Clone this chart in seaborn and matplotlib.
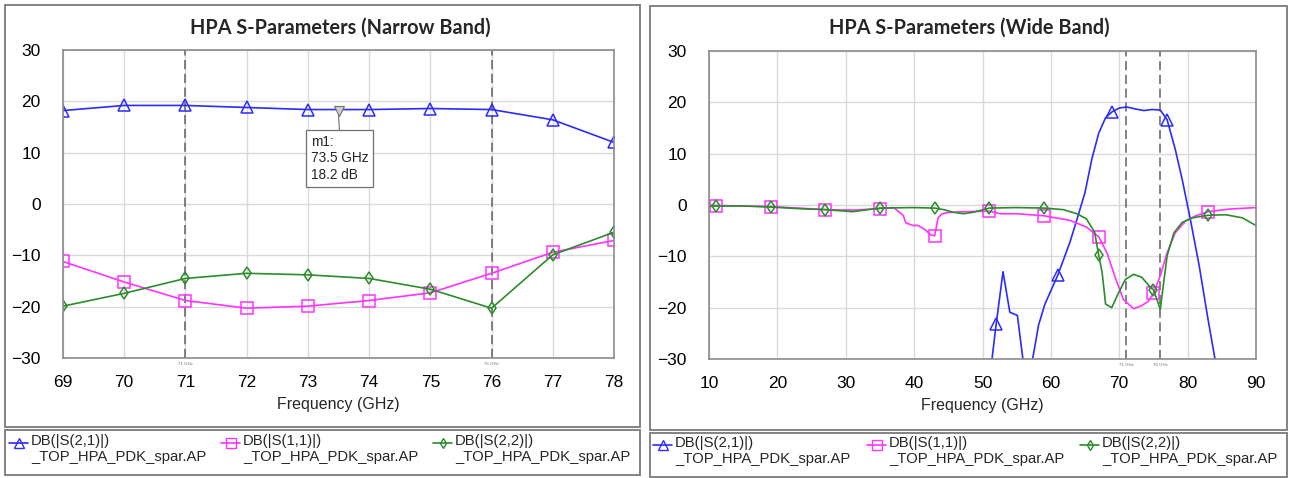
import numpy as np
import pandas as pd
import seaborn as sns
import matplotlib.pyplot as plt
from matplotlib.lines import Line2D
from matplotlib.patches import Rectangle

# --- narrow band (69-78 GHz) ---
nb_freq = [69, 70, 71, 72, 73, 74, 75, 76, 77, 78]
nb_s21 = [18.2, 19.2, 19.2, 18.8, 18.4, 18.4, 18.6, 18.4, 16.4, 12.0]
nb_s11 = [-11.2, -15.2, -18.8, -20.3, -19.9, -18.8, -17.3, -13.5, -9.4, -7.1]
nb_s22 = [-19.9, -17.4, -14.5, -13.5, -13.8, -14.5, -16.6, -20.3, -9.9, -5.5]

# marker m1
m1_freq = 73.5
m1_db = 18.2

# --- wide band (10-90 GHz) ---
wb_f21 = [51.3, 52, 53, 54, 55.1, 56.0, 57.2, 58.2, 59.1, 61, 62.8, 64, 65, 66, 67,
          68, 69, 70, 71.1, 72.4, 73.6, 74.8, 76, 77, 78.2, 79.2, 80.4, 81.7, 82.9, 84.2]
wb_s21 = [-31, -23.2, -13.0, -20.9, -21.5, -31, -31, -23.4, -19.4, -13.7, -7.2, -2.0, 2.5, 9.0, 14.0,
          17.0, 18.2, 18.9, 19.1, 18.7, 18.4, 18.6, 18.5, 16.6, 10.8, 5.0, -2.8, -11.9, -21.6, -31.5]

wb_f11 = [10, 11, 15, 19, 23, 27, 31, 35, 37, 38.4, 38.8, 39.9, 40.6, 41.6, 42.4, 43, 43.5, 44.0,
          44.8, 47.2, 51, 52.6, 55, 59, 62.8, 65.2, 67, 68.2, 69.4, 70.6, 72.1, 73.3, 74.3, 75,
          76, 77, 78.2, 79.7, 81.2, 83, 86, 90]
wb_s11 = [0.0, -0.1, -0.2, -0.3, -0.6, -0.9, -1.0, -0.7, -0.5, -2.0, -3.5, -4.0, -4.0, -4.8, -5.8, -6.0, -2.5, -1.8,
          -1.5, -1.3, -1.2, -1.7, -1.7, -2.1, -3.0, -4.3, -6.2, -9.3, -14.1, -18.4, -20.2, -19.6, -18.7, -17.2,
          -13.8, -9.3, -5.4, -3.1, -2.1, -1.3, -0.8, -0.5]

wb_f22 = [10, 11, 15, 19, 23, 27, 31, 35, 40, 43, 44.3, 45.7, 47.2, 48.7, 51, 55, 59, 61.8, 63.8,
          65.2, 66.4, 67, 67.5, 68.0, 68.9, 69.9, 70.9, 72.1, 73.3, 74.6, 75, 76, 77, 78, 79.2,
          80.7, 83, 85.6, 88, 90]
wb_s22 = [-0.3, -0.2, -0.2, -0.4, -0.7, -0.9, -1.3, -0.6, -0.5, -0.6, -0.9, -1.4, -1.7, -1.4, -0.6, -0.5, -0.6, -0.9, -1.7,
          -2.7, -5.3, -9.8, -13.2, -19.3, -20.0, -17.1, -14.5, -13.5, -14.1, -16.1, -16.5, -20.3, -9.9, -5.4, -3.4,
          -2.5, -2.0, -1.9, -2.5, -4.0]

# where the symbols sit on the wide band traces
wb_marks21 = [52, 61, 69, 77]
wb_marks = [11, 19, 27, 35, 43, 51, 59, 67, 75, 83]

band_edges = [71, 76]
band_labels = ["71 GHz", "76 GHz"]

labels = ["DB(|S(2,1)|)\n_TOP_HPA_PDK_spar.AP",
          "DB(|S(1,1)|)\n_TOP_HPA_PDK_spar.AP",
          "DB(|S(2,2)|)\n_TOP_HPA_PDK_spar.AP"]
colors = ["#2b2bff", "#ff33ff", "#2a8c2a"]
symbols = ["^", "s", "d"]
msizes = [8, 8.5, 6.5]

sns.set_theme(style="white")
plt.rcParams["font.family"] = ["Liberation Sans", "DejaVu Sans"]

W, H = 1291, 478
fig = plt.figure(figsize=(W / 100, H / 100), dpi=100)


def fx(px):
    return px / W


def fy(py):
    return 1 - py / H


def draw_curve(ax, f, v, marks, i):
    mask = [x in marks for x in f]
    sns.lineplot(x=f, y=v, ax=ax, color=colors[i], lw=1.2, sort=False, estimator=None,
                 marker=symbols[i], markevery=mask, ms=msizes[i], mfc="none",
                 mec=colors[i], mew=1.1)


def style_axes(ax, xlim, xticks):
    ax.set_xlim(xlim)
    ax.set_ylim(-30, 30)
    ax.set_xticks(xticks)
    ax.set_yticks(range(-30, 31, 10))
    ax.grid(True, color="#d9d9d9", lw=1)
    for s in ax.spines.values():
        s.set_color("#8c8c8c")
        s.set_linewidth(1.2)
    ax.tick_params(axis="y", length=0, pad=16, labelsize=12.5, labelcolor="black")
    ax.tick_params(axis="x", length=0, pad=12, labelsize=12.5, labelcolor="black")
    ax.set_xlabel("Frequency (GHz)", fontsize=11.5, labelpad=5)
    ax.set_ylabel("")
    for f, lab in zip(band_edges, band_labels):
        ax.axvline(f, color="#606060", lw=1.1, ls=(0, (6, 3)), zorder=1.5)
        ax.text(f, -0.012, lab, transform=ax.get_xaxis_transform(), fontsize=3.2,
                color="#707070", ha="center", va="top")


# left: narrow band
ax1 = fig.add_axes([fx(63), fy(358), fx(614 - 63), (358 - 50) / H])
draw_curve(ax1, nb_freq, nb_s21, nb_freq, 0)
draw_curve(ax1, nb_freq, nb_s11, nb_freq, 1)
draw_curve(ax1, nb_freq, nb_s22, nb_freq, 2)
style_axes(ax1, (69, 78), range(69, 79))
ax1.plot([m1_freq], [m1_db], marker="v", ms=7, mfc="#d0d0d0", mec="#707070", mew=0.8, ls="none", zorder=5)
ax1.annotate(f"m1:\n{m1_freq} GHz\n{m1_db} dB", xy=(m1_freq, m1_db - 0.8), xytext=(73.05, 13.5),
             ha="left", va="top", fontsize=9.8, linespacing=1.25,
             bbox=dict(boxstyle="square,pad=0.35", fc="white", ec="#707070", lw=0.9),
             arrowprops=dict(arrowstyle="-", color="#808080", lw=0.9, shrinkA=0, shrinkB=0,
                             relpos=(0.5, 1.0)))

# right: wide band
ax2 = fig.add_axes([fx(709), fy(359), fx(1256 - 709), (359 - 51) / H])
draw_curve(ax2, wb_f21, wb_s21, wb_marks21, 0)
draw_curve(ax2, wb_f11, wb_s11, wb_marks, 1)
draw_curve(ax2, wb_f22, wb_s22, wb_marks, 2)
style_axes(ax2, (10, 90), range(10, 91, 10))

# titles
fig.text(fx(340), fy(28), "HPA S-Parameters (Narrow Band)", ha="center", va="center",
         fontsize=14.3, fontweight="bold", family=["Lato", "DejaVu Sans"])
fig.text(fx(969), fy(28), "HPA S-Parameters (Wide Band)", ha="center", va="center",
         fontsize=14.3, fontweight="bold", family=["Lato", "DejaVu Sans"])

# panel frames and hand-placed legend rows (handle sits on the first label line)
panels = [
    # x0, x1, ytop, ymid, ybot, handle x starts, first-line y
    (5, 640, 5, 427, 475, [9, 221, 433], 443),
    (650, 1287, 6, 430, 477, [653, 867, 1080], 445),
]
for (x0, x1, ytop, ymid, ybot, hx, ly) in panels:
    fig.add_artist(Rectangle((fx(x0), fy(ymid)), fx(x1 - x0), (ymid - ytop) / H,
                             transform=fig.transFigure, fill=False, ec="#7a7a7a", lw=1.3))
    fig.add_artist(Rectangle((fx(x0), fy(ybot)), fx(x1 - x0), (ybot - ymid - 3) / H,
                             transform=fig.transFigure, fill=False, ec="#7a7a7a", lw=1.3))
    for i, hx0 in enumerate(hx):
        fig.add_artist(Line2D([fx(hx0), fx(hx0 + 19)], [fy(ly), fy(ly)], transform=fig.transFigure,
                              color=colors[i], lw=1.2))
        fig.add_artist(Line2D([fx(hx0 + 9.5)], [fy(ly)], transform=fig.transFigure,
                              marker=symbols[i], ms=msizes[i] * 0.85, mfc="none", mec=colors[i], mew=1.0))
        fig.text(fx(hx0 + 22), fy(ly - 9), labels[i], ha="left", va="top", fontsize=10.7,
                 linespacing=1.2)

fig.savefig("out.png", dpi=100, facecolor="white")
